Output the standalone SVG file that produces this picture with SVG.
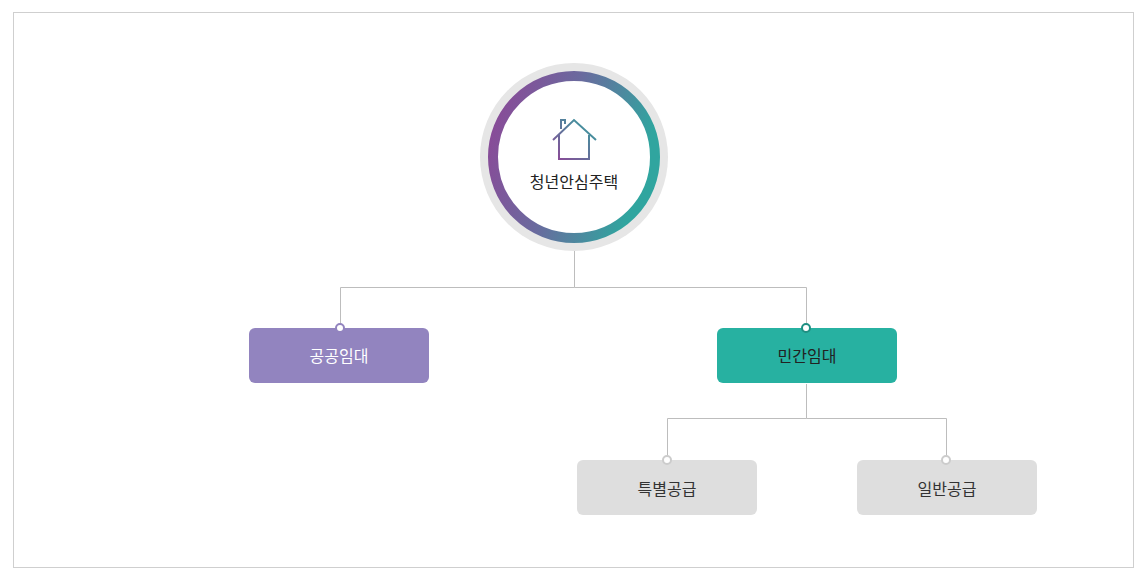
<svg xmlns="http://www.w3.org/2000/svg" width="1144" height="580" viewBox="0 0 1144 580">
<style>
.ln{fill:none;stroke:#bdbdbd;stroke-width:1}
.t{font-family:"Noto Sans CJK KR","Noto Sans",sans-serif;font-size:16px;text-anchor:middle;dominant-baseline:central}
.box{stroke:none}
</style>
<defs>
<linearGradient id="g" x1="0" y1="0" x2="1" y2="0.3">
<stop offset="0" stop-color="#8e4697"/>
<stop offset="0.5" stop-color="#6a6a9e"/>
<stop offset="1" stop-color="#30a59f"/>
</linearGradient>
<linearGradient id="h" x1="0" y1="1" x2="1" y2="0">
<stop offset="0" stop-color="#8e4697"/>
<stop offset="1" stop-color="#30a59f"/>
</linearGradient>
</defs>
<rect x="13.5" y="12.5" width="1120" height="555" fill="#fff" stroke="#cfcfcf"/>
<g id="connectors">
<path class="ln" d="M574.5 250V287.5H340.5V328M574.5 287.5H806.5V328"/>
<path class="ln" d="M806.5 384V418.5H667.5V460M806.5 418.5H946.5V460"/>
</g>
<g id="root">
<circle cx="574" cy="157" r="94" fill="#e6e6e6"/>
<circle cx="574" cy="157" r="81" fill="#fff" stroke="url(#g)" stroke-width="10"/>
<path d="M553 140L574 120L596 140M559 135V159H589V135M561 129V120H565V124" fill="none" stroke="url(#h)" stroke-width="2"/>
<text class="t" x="574" y="181" font-size="17" fill="#222">청년안심주택</text>
</g>
<g id="n1">
<rect x="249" y="328" width="180" height="55" rx="6" fill="#9284bf"/>
<circle cx="340" cy="328" r="4" fill="#fff" stroke="#9284bf" stroke-width="2"/>
<text class="t" x="339" y="355" fill="#fff">공공임대</text>
</g>
<g id="n2">
<rect x="717" y="328" width="180" height="55" rx="6" fill="#27b1a1"/>
<circle cx="806" cy="328" r="4" fill="#fff" stroke="#1f8f82" stroke-width="2"/>
<text class="t" x="807" y="355" fill="#222">민간임대</text>
</g>
<g id="n3">
<rect x="577" y="460" width="180" height="55" rx="6" fill="#dedede"/>
<circle cx="667" cy="460" r="4" fill="#fff" stroke="#ccc" stroke-width="2"/>
<text class="t" x="667" y="488" fill="#333">특별공급</text>
</g>
<g id="n4">
<rect x="857" y="460" width="180" height="55" rx="6" fill="#dedede"/>
<circle cx="946" cy="460" r="4" fill="#fff" stroke="#ccc" stroke-width="2"/>
<text class="t" x="947" y="488" fill="#333">일반공급</text>
</g>
</svg>
